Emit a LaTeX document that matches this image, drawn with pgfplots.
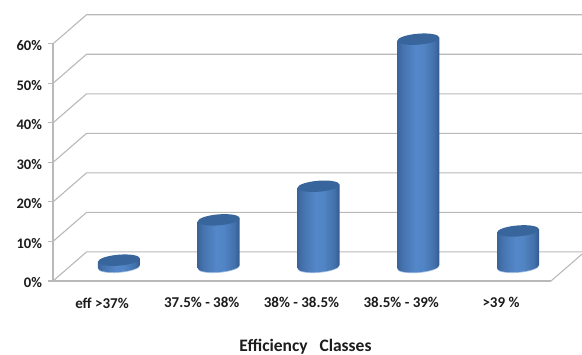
\documentclass[border=0pt]{standalone}
\usepackage{fontspec}
\setmainfont{Carlito}
\usepackage{pgfplots}
\usepackage{pgfplotstable}
\pgfplotsset{compat=1.18}

\definecolor{wallgray}{HTML}{B9B9B9}
\definecolor{captionink}{HTML}{1C1C1C}
\definecolor{captop}{HTML}{38669C}
\definecolor{baseglow}{HTML}{A9C3E4}

% Side shading of the cylinders: dark rim, bright band left of centre
\pgfdeclarehorizontalshading{cylbody}{100bp}{
  rgb(0bp)=(0.23,0.39,0.60);
  rgb(25bp)=(0.23,0.39,0.60);
  rgb(31bp)=(0.27,0.45,0.68);
  rgb(47bp)=(0.33,0.53,0.79);
  rgb(56bp)=(0.32,0.52,0.77);
  rgb(69bp)=(0.26,0.44,0.67);
  rgb(75bp)=(0.20,0.35,0.55);
  rgb(100bp)=(0.20,0.35,0.55)}

% A cylinder whose top is the data point; the body reaches down to the floor.
% The 17pt/14.5pt shift puts the column in the middle of the floor's depth.
\pgfdeclareplotmark{cylinder}{%
  \pgfmathsetmacro\barh{\barv*3.957}%
  \pgftransformshift{\pgfqpoint{17pt}{14.5pt}}%
  \begin{pgfscope}
    \pgfsetfillcolor{baseglow}%
    \pgfpathellipse{\pgfpoint{0pt}{-\barh pt-0.8pt}}{\pgfqpoint{21pt}{1.6pt}}{\pgfqpoint{0pt}{5.5pt}}%
    \pgfusepath{fill}%
  \end{pgfscope}
  \pgfpathmoveto{\pgfpoint{-21pt}{-1.6pt-\barh pt}}%
  \pgfpathlineto{\pgfpoint{21pt}{1.6pt-\barh pt}}%
  \pgfpathlineto{\pgfqpoint{21pt}{1.6pt}}%
  \pgfpathlineto{\pgfqpoint{-21pt}{-1.6pt}}%
  \pgfpathclose
  \pgfpathellipse{\pgfpoint{0pt}{-\barh pt}}{\pgfqpoint{21pt}{1.6pt}}{\pgfqpoint{0pt}{5.5pt}}%
  \pgfshadepath{cylbody}{0}%
  \pgfusepath{discard}%
  \pgfsetfillcolor{captop}%
  \pgfpathellipse{\pgfpointorigin}{\pgfqpoint{21pt}{1.6pt}}{\pgfqpoint{0pt}{5.5pt}}%
  \pgfusepath{fill}%
}

\pgfplotstableread{
idx share
0   1.6
1   11.8
2   20.3
3   57.5
4   9.0
}\efficiencyshares

\begin{document}
\begin{tikzpicture}[x=1pt,y=1pt]
\useasboundingbox (0,0) rectangle (582,355);
\begin{axis}[
  at={(53pt,74pt)}, anchor=south west,
  width=498pt, height=237.2pt, scale only axis,
  xmin=-0.491, xmax=4.501, ymin=0, ymax=60,
  clip=false,
  axis lines*=left,
  axis line style={draw=wallgray, line width=1.1pt, -},
  xtick={0,1,2,3,4},
  xticklabels={eff >37\%, 37.5\% - 38\%, 38\% - 38.5\%, 38.5\% - 39\%, >39 \%},
  ytick={0,10,20,30,40,50,60},
  yticklabels={0\%,10\%,20\%,30\%,40\%,50\%,60\%},
  tick align=outside,
  xtick style={draw=none},
  ytick style={draw=wallgray, line width=1.1pt},
  major tick length=5pt,
  xticklabel style={font=\fontsize{15}{17}\selectfont\bfseries, text=captionink, yshift=-8pt},
  yticklabel style={font=\fontsize{14.6}{17}\selectfont\bfseries, text=captionink, xshift=-2.5pt, yshift=-2pt},
  xlabel={Efficiency\ \ \ Classes},
  xlabel style={at={(axis description cs:0.507,-0.279)}, anchor=center,
                font=\fontsize{17.5}{20}\selectfont\bfseries, text=captionink},
]
% Side wall and back wall rulings, one polyline per percent level
\pgfplotsinvokeforeach{0,10,20,30,40,50,60}{
  \addplot[draw=wallgray, line width=1.1pt, forget plot]
    coordinates {(-0.491,#1) (-0.155,#1+7.35) (4.812,#1+7.35)};
}
% Right edge of the floor
\addplot[draw=wallgray, line width=1.1pt, forget plot]
  coordinates {(4.501,0) (4.812,6.8)};
% Columns
\addplot[scatter, only marks, mark=cylinder, point meta=y,
  visualization depends on={y \as \barv},
  scatter/use mapped color={draw=none, fill=none}]
  table[x=idx, y=share] {\efficiencyshares};
\end{axis}
\end{tikzpicture}
\end{document}
